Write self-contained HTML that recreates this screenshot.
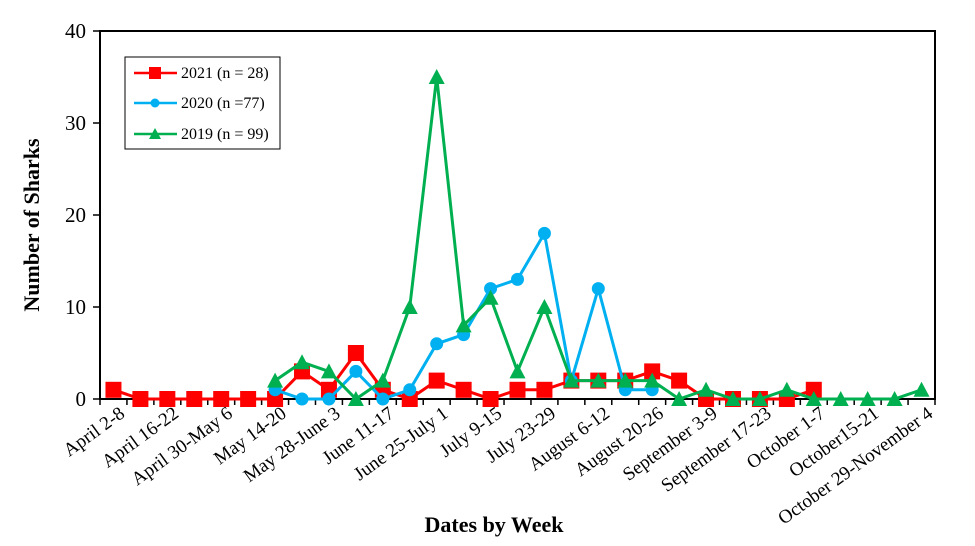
<!DOCTYPE html>
<html><head><meta charset="utf-8"><style>
html,body{margin:0;padding:0;background:#fff;}
svg{display:block;font-family:"Liberation Serif",serif;}
</style></head><body>
<svg id="c" width="975" height="546" xmlns="http://www.w3.org/2000/svg"></svg>
<script>
const s=document.getElementById('c');
const L=100,R=935,T=31,B=399,N=31,w=(R-L)/N;
const X=i=>L+w*(i+0.5), Y=v=>B-(B-T)*v/40;
let h='';
h+=`<rect x="${L}" y="${T}" width="${R-L}" height="${B-T}" fill="none" stroke="#000" stroke-width="2"/>`;
for(let v=0;v<=40;v+=10){const y=Y(v);h+=`<line x1="93" x2="${L}" y1="${y}" y2="${y}" stroke="#000" stroke-width="1.5"/><text x="86" y="${y+7}" font-size="21" text-anchor="end">${v}</text>`;}
for(let i=0;i<=N;i++){const x=L+w*i;h+=`<line x1="${x}" x2="${x}" y1="${B}" y2="${B+6}" stroke="#000" stroke-width="1.5"/>`;}
const labs=["April 2-8","April 16-22","April 30-May 6","May 14-20","May 28-June 3","June 11-17","June 25-July 1","July 9-15","July 23-29","August 6-12","August 20-26","September 3-9","September 17-23","October 1-7","October15-21","October 29-November 4"];
labs.forEach((t,k)=>{const x=X(2*k)+6,y=B+8;h+=`<text x="${x}" y="${y}" font-size="19" text-anchor="end" transform="rotate(-36 ${x} ${y})" dy="11">${t}</text>`;});
const red=[1,0,0,0,0,0,0,3,1,5,1,0,2,1,0,1,1,2,2,2,3,2,0,0,0,0,1];
const blue=[null,null,null,null,null,null,1,0,0,3,0,1,6,7,12,13,18,2,12,1,1];
const green=[null,null,null,null,null,null,2,4,3,0,2,10,35,8,11,3,10,2,2,2,2,0,1,0,0,1,0,0,0,0,1];
function series(d,col,m){let pts=[];d.forEach((v,i)=>{if(v!=null)pts.push([X(i),Y(v)]);});
h+=`<polyline points="${pts.map(p=>p.join(',')).join(' ')}" fill="none" stroke="${col}" stroke-width="3"/>`;
pts.forEach(([x,y])=>{h+=mk(m,x,y,col);});}
function mk(m,x,y,col){if(m=='s')return `<rect x="${x-8}" y="${y-8}" width="16" height="16" fill="${col}"/>`;
if(m=='c')return `<circle cx="${x}" cy="${y}" r="6.5" fill="${col}"/>`;
return `<polygon points="${x},${y-8} ${x-8},${y+7} ${x+8},${y+7}" fill="${col}"/>`;}
series(red,'#ff0000','s');series(blue,'#00b0f0','c');series(green,'#00b050','t');
h+=`<rect x="125" y="57" width="155" height="92" fill="#fff" stroke="#000" stroke-width="1"/>`;
[['#ff0000','s','2021 (n = 28)',73],['#00b0f0','c','2020 (n =77)',103],['#00b050','t','2019 (n = 99)',134]].forEach(([c,m,t,y])=>{
h+=`<line x1="134" x2="177" y1="${y}" y2="${y}" stroke="${c}" stroke-width="2.5"/>`;
h+= m=='s'?`<rect x="149" y="${y-6}" width="12" height="12" fill="${c}"/>`: m=='c'?`<circle cx="155" cy="${y}" r="4.5" fill="${c}"/>`:`<polygon points="155,${y-6} 149,${y+5} 161,${y+5}" fill="${c}"/>`;
h+=`<text x="181" y="${y+5}" font-size="16">${t}</text>`;});
h+=`<text x="494" y="532" font-size="22" font-weight="bold" text-anchor="middle">Dates by Week</text>`;
h+=`<text x="0" y="0" font-size="22" font-weight="bold" text-anchor="middle" transform="translate(39 225) rotate(-90)">Number of Sharks</text>`;
s.innerHTML=h;
</script>
</body></html>
